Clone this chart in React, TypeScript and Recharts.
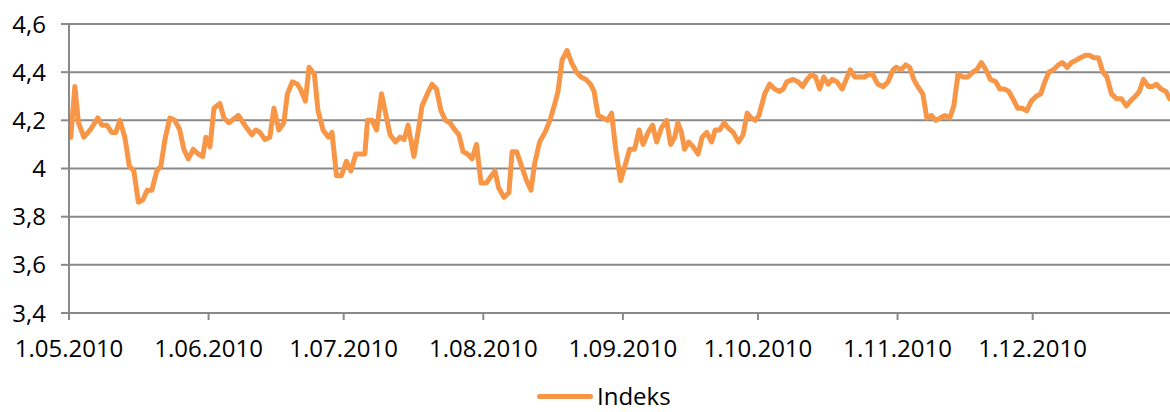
import React from "react";
import { LineChart, Line, XAxis, YAxis, CartesianGrid, Legend } from "recharts";

// Day offset from 1 May 2010 and index value
const days: number[] = [
  0.4, 1.3, 2.1, 3.3, 4.7, 6.4, 7.3, 8.4, 9.5, 10.4, 11.3, 12.4, 13.4, 14.4, 15.4, 16.4, 17.4, 18.4, 19.5, 20.4,
  21.3, 22.4, 23.5, 24.6, 25.5, 26.5, 27.6, 28.7, 29.7, 30.4, 31.3, 32.2, 33.5, 34.4, 35.5, 37.6, 38.7, 39.4, 40.6, 41.5,
  42.4, 43.5, 44.6, 45.5, 46.6, 47.7, 48.5, 49.6, 50.7, 51.4, 52.5, 53.3, 54.5, 55.3, 56.4, 57.6, 58.4, 59.4, 60.5, 61.6,
  62.6, 63.7, 64.8, 65.7, 66.3, 67.3, 68.3, 69.4, 70.3, 71.3, 72.5, 73.5, 74.4, 75.3, 76.6, 77.5, 78.4, 79.6, 80.6, 81.6,
  82.6, 83.6, 84.6, 85.7, 86.6, 87.5, 88.5, 89.5, 90.5, 91.5, 92.7, 93.8, 94.6, 95.4, 96.6, 97.7, 98.4, 99.4, 100.5, 101.6,
  102.6, 103.4, 104.5, 105.7, 106.8, 107.9, 108.6, 109.5, 110.6, 111.6, 112.7, 113.7, 114.8, 115.8, 116.6, 117.5, 118.6, 119.6, 120.5, 121.4,
  122.5, 123.6, 124.5, 125.6, 126.6, 127.5, 128.6, 129.6, 130.5, 131.6, 132.7, 133.6, 134.5, 135.2, 136.0, 136.7, 137.6, 138.6, 139.7, 140.6,
  141.6, 142.7, 143.5, 144.5, 145.5, 146.3, 147.5, 148.7, 149.7, 150.6, 151.5, 152.4, 153.2, 154.5, 155.6, 156.7, 157.8, 158.6, 159.4, 160.8,
  161.9, 162.9, 163.9, 164.9, 165.8, 166.7, 167.6, 168.6, 169.5, 170.5, 171.7, 172.6, 173.5, 174.5, 175.6, 176.7, 177.6, 178.5, 179.6, 180.8,
  181.9, 183.0, 183.7, 184.8, 185.8, 186.7, 187.6, 188.5, 189.6, 190.5, 191.5, 192.5, 193.5, 194.5, 195.6, 196.5, 197.4, 198.5, 199.6, 200.7,
  201.6, 202.6, 203.6, 204.6, 205.8, 206.7, 207.8, 208.7, 209.6, 210.7, 211.7, 212.7, 213.7, 214.8, 215.8, 216.7, 217.6, 218.6, 219.7, 220.6,
  221.7, 222.6, 223.7, 224.6, 225.7, 226.6, 227.6, 228.6, 229.6, 230.5, 231.5, 232.6, 233.7, 234.8, 235.7, 236.8, 237.7, 238.6, 239.7, 240.6,
  241.5, 242.5, 243.6, 244.4,
];

const values: number[] = [
  4.13, 4.34, 4.19, 4.13, 4.16, 4.21, 4.18, 4.18, 4.15, 4.15, 4.20, 4.13, 4.01, 3.99, 3.86, 3.87, 3.91, 3.91, 3.99, 4.01,
  4.12, 4.21, 4.20, 4.16, 4.08, 4.04, 4.08, 4.06, 4.05, 4.13, 4.09, 4.25, 4.27, 4.21, 4.19, 4.22, 4.19, 4.17, 4.14, 4.16,
  4.15, 4.12, 4.13, 4.25, 4.16, 4.19, 4.31, 4.36, 4.35, 4.33, 4.28, 4.42, 4.39, 4.24, 4.16, 4.13, 4.15, 3.97, 3.97, 4.03,
  3.99, 4.06, 4.06, 4.06, 4.20, 4.20, 4.16, 4.31, 4.23, 4.14, 4.11, 4.13, 4.12, 4.18, 4.05, 4.15, 4.26, 4.31, 4.35, 4.33,
  4.24, 4.20, 4.19, 4.16, 4.14, 4.07, 4.06, 4.04, 4.10, 3.94, 3.94, 3.97, 3.99, 3.92, 3.88, 3.90, 4.07, 4.07, 4.01, 3.95,
  3.91, 4.02, 4.11, 4.15, 4.20, 4.27, 4.32, 4.45, 4.49, 4.44, 4.40, 4.38, 4.37, 4.35, 4.32, 4.22, 4.21, 4.20, 4.23, 4.08,
  3.95, 4.02, 4.08, 4.08, 4.16, 4.10, 4.15, 4.18, 4.11, 4.17, 4.20, 4.10, 4.13, 4.19, 4.15, 4.08, 4.11, 4.09, 4.06, 4.13,
  4.15, 4.11, 4.16, 4.16, 4.19, 4.17, 4.15, 4.11, 4.14, 4.23, 4.21, 4.20, 4.22, 4.31, 4.35, 4.33, 4.32, 4.33, 4.36, 4.37,
  4.36, 4.34, 4.37, 4.39, 4.38, 4.33, 4.38, 4.35, 4.37, 4.36, 4.33, 4.37, 4.41, 4.38, 4.38, 4.38, 4.39, 4.39, 4.35, 4.34,
  4.36, 4.41, 4.42, 4.41, 4.43, 4.42, 4.37, 4.34, 4.31, 4.21, 4.22, 4.20, 4.21, 4.22, 4.21, 4.26, 4.39, 4.38, 4.38, 4.40,
  4.41, 4.44, 4.41, 4.37, 4.36, 4.33, 4.33, 4.32, 4.29, 4.25, 4.25, 4.24, 4.28, 4.30, 4.31, 4.36, 4.40, 4.41, 4.43, 4.44,
  4.42, 4.44, 4.45, 4.46, 4.47, 4.47, 4.46, 4.46, 4.40, 4.38, 4.31, 4.29, 4.29, 4.26, 4.28, 4.30, 4.32, 4.37, 4.34, 4.34,
  4.35, 4.33, 4.32, 4.29,
];

const monthTickDays: number[] = [0, 31, 61, 92, 123, 153, 184, 214];
const monthTickLabels: string[] = [
  "1.05.2010", "1.06.2010", "1.07.2010", "1.08.2010", "1.09.2010", "1.10.2010", "1.11.2010", "1.12.2010",
];
const yTicks: number[] = [3.4, 3.6, 3.8, 4.0, 4.2, 4.4, 4.6];
const yTickLabels: string[] = ["3,4", "3,6", "3,8", "4", "4,2", "4,4", "4,6"];

const seriesName = "Indeks";
const data = days.map((d, i) => ({ day: d, value: values[i] }));

const ORANGE = "#F79646";
const GRAY = "#898989";
const FONT = "'Open Sans', sans-serif";

const LegendContent = () => (
  <div style={{ display: "flex", alignItems: "center", height: 33, fontFamily: FONT }}>
    <div style={{ width: 56, height: 5, background: ORANGE, borderRadius: 3, marginRight: 4, marginTop: 2 }} />
    <span style={{ fontSize: 24, lineHeight: "33px", color: "#000", whiteSpace: "nowrap" }}>{seriesName}</span>
  </div>
);

export default function App() {
  return (
    <div style={{ position: "absolute", left: 0, top: 0, width: 1170, height: 412, background: "#fff" }}>
      <LineChart width={1170} height={412} data={data} margin={{ top: 24, right: 0, left: 0, bottom: 0 }}>
        <CartesianGrid horizontal vertical={false} stroke={GRAY} strokeWidth={2} />
        <XAxis
          dataKey="day"
          type="number"
          domain={[0, 244.5]}
          ticks={monthTickDays}
          tickFormatter={(v: number) => monthTickLabels[monthTickDays.indexOf(v)] ?? ""}
          height={66}
          tickSize={7}
          tickMargin={20}
          axisLine={{ stroke: GRAY, strokeWidth: 2 }}
          tickLine={{ stroke: GRAY, strokeWidth: 2 }}
          tick={{ fill: "#000", fontSize: 24, fontFamily: FONT }}
          interval={0}
          allowDataOverflow
        />
        <YAxis
          type="number"
          domain={[3.4, 4.6]}
          ticks={yTicks}
          tickFormatter={(v: number) => yTickLabels[yTicks.findIndex((t) => Math.abs(t - v) < 1e-6)] ?? ""}
          width={69}
          tickSize={8}
          tickMargin={15}
          axisLine={{ stroke: GRAY, strokeWidth: 2 }}
          tickLine={{ stroke: GRAY, strokeWidth: 2 }}
          tick={{ fill: "#000", fontSize: 24, fontFamily: FONT }}
          interval={0}
        />
        <Legend
          verticalAlign="bottom"
          content={<LegendContent />}
          wrapperStyle={{ left: 537, bottom: 0, width: "auto", height: 33 }}
        />
        <Line
          type="linear"
          dataKey="value"
          name={seriesName}
          stroke={ORANGE}
          strokeWidth={5}
          strokeLinejoin="round"
          strokeLinecap="round"
          dot={false}
          activeDot={false}
          isAnimationActive={false}
        />
      </LineChart>
    </div>
  );
}
